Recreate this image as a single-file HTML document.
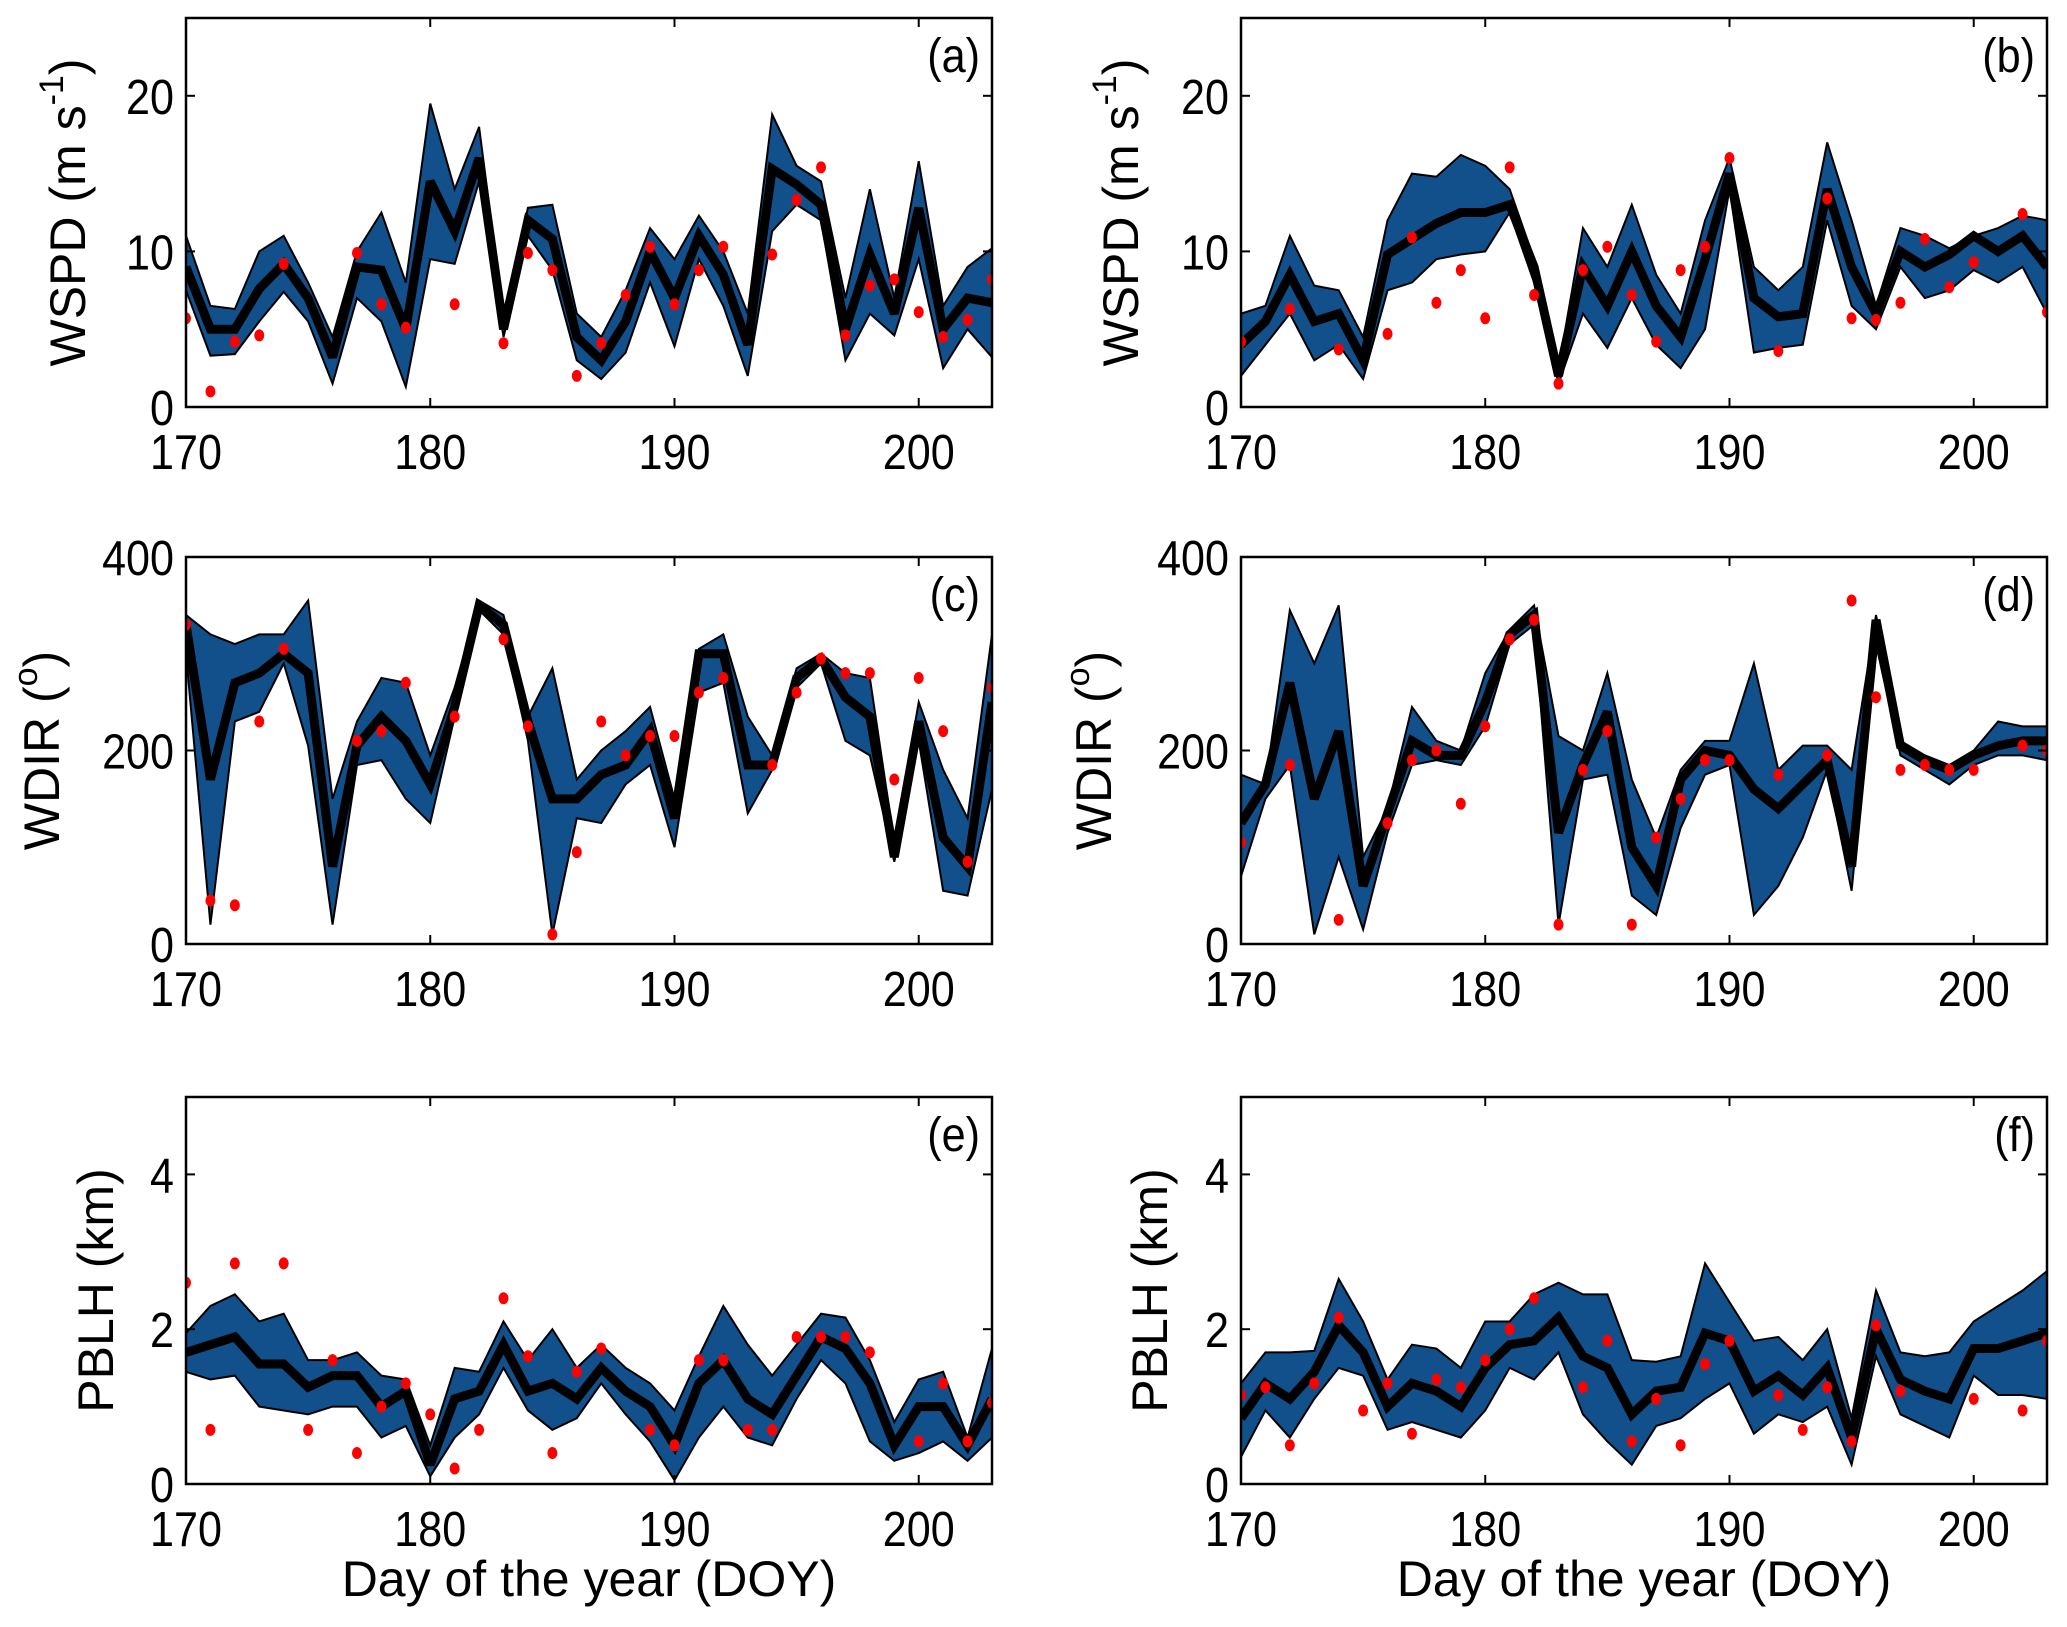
<!DOCTYPE html>
<html><head><meta charset="utf-8">
<style>
html,body{margin:0;padding:0;background:#fff;}
svg{display:block;}
text{font-family:"Liberation Sans Narrow","Liberation Sans",sans-serif;fill:#000;}
.lab{font-family:"Liberation Sans",sans-serif;}
</style></head>
<body>
<svg id="fig" width="2067" height="1627" viewBox="0 0 2067 1627"></svg>
<script>
const days = [170,171,172,173,174,175,176,177,178,179,180,181,182,183,184,185,186,187,188,189,190,191,192,193,194,195,196,197,198,199,200,201,202,203];
const xTicks = [170,180,190,200];
const N = null;
// Panel a WSPD
const aMean=[9,5,5,7.6,9.2,7,3.2,9,8.8,5,14.5,11.3,16,5,12,10.8,4.5,3,5.5,10,7,11,8.5,4,15.3,14.3,13,5,9.8,6,12.8,5,7,6.7];
const aUp=[11,6.5,6.3,10,11,8,4.5,10,12.5,8,19.5,14,18,5.8,12.8,13,6,4.5,7.5,11.5,9.5,12.3,10,6,18.8,15.5,14.5,7,14,7,15.8,6.5,9,10.2];
const aLo=[7.5,3.3,3.4,5.5,7.4,5.5,1.5,7,5.5,1.3,9.5,9.2,14.5,4.5,11,8.8,3,1.8,3.5,8,3.9,9.5,6.5,2,11.3,13,12,3,6,4.6,9.5,2.5,5,3.2];
const aObs=[5.7,1,4.2,4.6,9.2,N,N,9.9,6.6,5.1,N,6.6,N,4.1,9.9,8.8,2,4.1,7.2,10.3,6.6,8.8,10.3,N,9.8,13.3,15.4,4.6,7.8,8.2,6.1,4.5,5.6,8.2];
// Panel b WSPD
const bMean=[4,5.5,8.5,5.5,6,3,9.8,10.8,11.8,12.5,12.5,13,9,2,9,6.5,10,6.5,4.5,9.5,15,7,5.8,6,14,9,6,10,9,9.8,11,10,11,9];
const bUp=[6,6.5,11,7.8,7.5,4.5,12,15,14.8,16.2,15.5,14,9.5,2.5,11.5,9,13,8.5,6,12,16,9,7.5,9,17,12,6.5,11.5,11,10.2,11,11.5,12.3,12];
const bLo=[2,4,6,3,4,1.8,7.5,8,9.5,9.8,10,12.5,8,1.5,6,3.8,7,4,2.5,5,14,3.5,3.8,4,12,6.5,5,9,7,7.5,8.8,8,9,6];
const bObs=[4.2,N,6.3,N,3.7,N,4.7,10.9,6.7,8.8,5.7,15.4,7.2,1.5,8.8,10.3,7.2,4.2,8.8,10.3,16,N,3.6,N,13.4,5.7,5.6,6.7,10.8,7.7,9.3,N,12.4,6.1];
// Panel c WDIR
const cMean=[330,170,270,280,300,280,80,205,235,210,165,245,350,330,230,150,150,175,185,220,130,300,300,185,185,275,295,255,235,90,230,110,80,250];
const cUp=[340,320,310,320,320,355,150,230,275,270,195,265,355,340,235,285,170,200,220,245,150,305,320,235,195,285,300,280,275,105,250,180,130,320];
const cLo=[300,20,230,240,290,205,20,185,190,150,125,235,345,320,210,10,130,125,165,185,100,260,270,135,180,265,290,210,195,85,210,55,50,160];
const cObs=[330,45,40,230,305,N,N,210,220,270,N,235,N,315,225,10,95,230,195,215,215,260,275,N,185,260,295,280,280,170,275,220,85,265];
// Panel d WDIR
const dMean=[125,165,270,150,220,60,135,210,195,195,250,320,340,115,185,240,100,60,170,200,195,160,140,165,190,80,335,205,190,180,195,205,210,210];
const dUp=[175,165,345,290,350,90,140,245,210,200,280,325,350,215,200,280,170,110,180,210,210,290,180,205,205,180,340,210,195,185,200,230,225,225];
const dLo=[70,150,185,10,90,15,115,185,190,185,225,310,330,20,170,175,50,30,120,175,185,30,60,110,180,55,310,195,180,165,185,195,195,190];
const dObs=[105,N,185,N,25,N,125,190,200,145,225,315,335,20,180,220,20,110,150,190,190,N,175,N,195,355,255,180,185,180,180,N,205,200];
// Panel e PBLH
const eMean=[1.7,1.8,1.9,1.55,1.55,1.25,1.4,1.4,1.0,1.2,0.25,1.1,1.2,1.8,1.2,1.3,1.1,1.5,1.2,1.0,0.5,1.3,1.6,1.1,0.9,1.4,1.9,1.75,1.3,0.5,1.0,1.0,0.5,1.1];
const eUp=[1.95,2.3,2.45,2.1,2.2,1.6,1.6,1.7,1.4,1.35,0.5,1.5,1.45,2.1,1.6,2.0,1.5,1.8,1.5,1.3,0.95,1.65,2.3,1.8,1.4,1.8,2.2,2.15,1.6,0.8,1.35,1.45,0.6,1.75];
const eLo=[1.45,1.35,1.4,1.0,0.95,0.9,1.0,1.0,0.6,0.75,0.1,0.6,0.9,1.5,0.95,0.7,0.85,1.3,0.9,0.55,0.05,0.6,1.0,0.6,0.5,1.1,1.6,1.3,0.55,0.3,0.4,0.55,0.3,0.6];
const eObs=[2.6,0.7,2.85,N,2.85,0.7,1.6,0.4,1.0,1.3,0.9,0.2,0.7,2.4,1.65,0.4,1.45,1.75,N,0.7,0.5,1.6,1.6,0.7,0.7,1.9,1.9,1.9,1.7,N,0.55,1.3,0.55,1.05];
// Panel f PBLH
const fMean=[0.85,1.3,1.1,1.45,2.05,1.7,1.0,1.3,1.2,1.0,1.5,1.8,1.85,2.15,1.65,1.5,0.9,1.2,1.25,1.95,1.85,1.2,1.4,1.15,1.5,0.6,2.0,1.35,1.2,1.1,1.75,1.75,1.85,1.95];
const fUp=[1.3,1.7,1.7,1.72,2.65,2.1,1.35,1.8,1.75,1.5,2.1,2.1,2.45,2.6,2.45,2.45,1.6,1.58,1.65,2.85,2.35,1.85,1.9,1.6,2.0,0.85,2.5,1.7,1.65,1.7,2.1,2.3,2.5,2.75];
const fLo=[0.35,0.95,0.6,1.1,1.5,1.4,0.7,0.8,0.7,0.6,0.95,1.5,1.35,1.7,0.9,0.55,0.25,0.75,0.85,1.1,1.3,0.65,0.9,0.8,1.0,0.25,1.65,0.9,0.75,0.6,1.4,1.15,1.15,1.1];
const fObs=[1.15,1.25,0.5,1.3,2.15,0.95,1.3,0.65,1.35,1.25,1.6,2.0,2.4,N,1.25,1.85,0.55,1.1,0.5,1.55,1.85,N,1.15,0.7,1.25,0.55,2.05,1.2,N,N,1.1,N,0.95,1.85];

const wspdTicks=[0,10,20], wdirTicks=[0,200,400], pblhTicks=[0,2,4];

const NS="http://www.w3.org/2000/svg";
const svg=document.getElementById('fig');
function mk(tag,attrs,parent){const e=document.createElementNS(NS,tag);for(const k in attrs)e.setAttribute(k,attrs[k]);(parent||svg).appendChild(e);return e;}

const colsX=[186,1241], W=806;
const rowsY=[[18,407],[557,944],[1097,1484]];

const panels=[
 {id:'a',r:0,c:0,mean:aMean,up:aUp,lo:aLo,obs:aObs,ymax:25,ticks:wspdTicks,label:'wspd',lx:72},
 {id:'b',r:0,c:1,mean:bMean,up:bUp,lo:bLo,obs:bObs,ymax:25,ticks:wspdTicks,label:'wspd',lx:1125},
 {id:'c',r:1,c:0,mean:cMean,up:cUp,lo:cLo,obs:cObs,ymax:400,ticks:wdirTicks,label:'wdir',lx:46},
 {id:'d',r:1,c:1,mean:dMean,up:dUp,lo:dLo,obs:dObs,ymax:400,ticks:wdirTicks,label:'wdir',lx:1098},
 {id:'e',r:2,c:0,mean:eMean,up:eUp,lo:eLo,obs:eObs,ymax:5,ticks:pblhTicks,label:'pblh',lx:100},
 {id:'f',r:2,c:1,mean:fMean,up:fUp,lo:fLo,obs:fObs,ymax:5,ticks:pblhTicks,label:'pblh',lx:1154}
];

panels.forEach(p=>{
  const L=colsX[p.c], R=L+W, T=rowsY[p.r][0], B=rowsY[p.r][1];
  const xs=d=>L+(d-170)/(203-170)*(R-L);
  const ys=v=>B-v/p.ymax*(B-T);
  const g=mk('g',{});
  
  
  const cp=mk('clipPath',{id:'cp'+p.id},g);
  mk('rect',{x:L,y:T,width:W,height:B-T},cp);
  const pg=mk('g',{'clip-path':'url(#cp'+p.id+')'},g);
  let pts=days.map((d,i)=>xs(d)+','+ys(p.up[i]));
  for(let i=days.length-1;i>=0;i--)pts.push(xs(days[i])+','+ys(p.lo[i]));
  const band=mk('polygon',{points:pts.join(' '),fill:'#12508c',stroke:'#000','stroke-width':2,'stroke-linejoin':'miter'},pg);
  
  
  const line=mk('polyline',{points:days.map((d,i)=>xs(d)+','+ys(p.mean[i])).join(' '),fill:'none',stroke:'#000','stroke-width':9,'stroke-linejoin':'miter','stroke-miterlimit':3},pg);
  
  
  days.forEach((d,i)=>{
    if(p.obs[i]===null)return;
    const c=mk('ellipse',{cx:xs(d),cy:ys(p.obs[i]),rx:5,ry:6,fill:'#ff0000'},pg);
    
    
  });
  const box=mk('rect',{x:L,y:T,width:W,height:B-T,fill:'none',stroke:'#000','stroke-width':2.5},g);
  
  
  xTicks.forEach(t=>{
    const x=xs(t);
    mk('line',{x1:x,y1:B,x2:x,y2:B-9,stroke:'#000','stroke-width':2},g);
    mk('line',{x1:x,y1:T,x2:x,y2:T+9,stroke:'#000','stroke-width':2},g);
    const tx=mk('text',{x:0,y:0,'font-size':49,'text-anchor':'middle',transform:'translate('+x+','+(B+62)+') scale(0.88,1)'},g);
    tx.textContent=t;
    
    
  });
  p.ticks.forEach(t=>{
    const y=ys(t);
    mk('line',{x1:L,y1:y,x2:L+9,y2:y,stroke:'#000','stroke-width':2},g);
    mk('line',{x1:R,y1:y,x2:R-9,y2:y,stroke:'#000','stroke-width':2},g);
    const tx=mk('text',{x:0,y:0,'font-size':49,'text-anchor':'end',transform:'translate('+(L-12)+','+(y+18)+') scale(0.88,1)'},g);
    tx.textContent=t;
    
    
  });
  const pl=mk('text',{x:0,y:0,'font-size':48,'text-anchor':'end',transform:'translate('+(R-12)+','+(T+54)+') scale(0.9,1)'},g);
  pl.textContent='('+p.id+')';
  
  
  const cy=(T+B)/2;
  const yl=mk('text',{x:p.lx,y:cy,'font-size':50,'text-anchor':'middle',class:'lab',transform:'rotate(-90 '+p.lx+' '+cy+')','dominant-baseline':'middle'},g);
  
  
  if(p.label==='wspd'){yl.innerHTML='WSPD (m s<tspan dy="-18" font-size="34">-1</tspan><tspan dy="18">)</tspan>';}
  else if(p.label==='wdir'){yl.innerHTML='WDIR (<tspan dy="-18" font-size="34">o</tspan><tspan dy="18">)</tspan>';}
  else {yl.textContent='PBLH (km)';}
  if(p.r===2){
    const xl=mk('text',{x:(L+R)/2,y:1596,'font-size':50,'text-anchor':'middle',class:'lab'},g);
    xl.textContent='Day of the year (DOY)';
    
    
  }
});
</script>
</body></html>
